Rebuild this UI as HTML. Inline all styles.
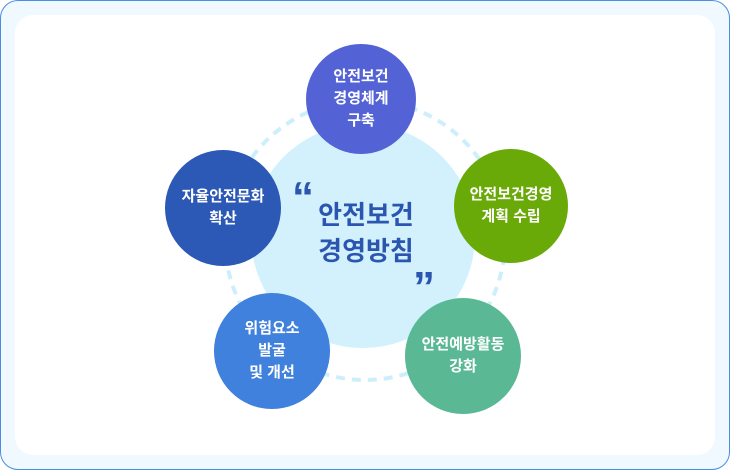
<!DOCTYPE html>
<html><head><meta charset="utf-8"><style>
body{margin:0;width:730px;height:470px;overflow:hidden;background:#fff;font-family:"Liberation Sans","Noto Sans CJK KR",sans-serif}
.outer{position:absolute;left:0;top:0;width:728px;height:468px;border:1px solid #4a8ee0;border-radius:18px;background:#f0f9ff}
.inner{position:absolute;left:15px;top:15px;width:700px;height:440px;background:#fff;border-radius:18px}
.c{position:absolute;border-radius:50%;color:#fff;font-weight:bold;font-size:15px;line-height:22px;display:flex;align-items:center;justify-content:center;text-align:center}
</style></head><body>
<div class="outer"></div><div class="inner"></div>
<svg style="position:absolute;left:0;top:0" width="730" height="470">
<circle cx="365" cy="240" r="140" fill="none" stroke="#cdeffc" stroke-width="4" stroke-dasharray="9 7"/>
<circle cx="363" cy="236" r="112" fill="#d2f1fd"/>
<text x="292" y="212" font-family="Liberation Sans,sans-serif" font-size="44" font-weight="bold" fill="#2b56b0">“</text>
<text x="413" y="302" font-family="Liberation Sans,sans-serif" font-size="44" font-weight="bold" fill="#2b56b0">”</text>
<text x="366" y="224" text-anchor="middle" font-family="Liberation Sans,Noto Sans CJK KR,sans-serif" font-size="26" font-weight="bold" fill="#2b56b0">안전보건</text>
<text x="366" y="260" text-anchor="middle" font-family="Liberation Sans,Noto Sans CJK KR,sans-serif" font-size="26" font-weight="bold" fill="#2b56b0">경영방침</text>
</svg>
<div class="c" style="left:306px;top:44px;width:110px;height:110px;background:#5363d6">안전보건<br>경영체계<br>구축</div>
<div class="c" style="left:165px;top:150px;width:116px;height:116px;background:#2c58b6">자율안전문화<br>확산</div>
<div class="c" style="left:454px;top:149px;width:114px;height:114px;background:#6aaa08">안전보건경영<br>계획 수립</div>
<div class="c" style="left:405px;top:298px;width:116px;height:116px;background:#5ab994">안전예방활동<br>강화</div>
<div class="c" style="left:214px;top:293px;width:116px;height:116px;background:#3f81dc">위험요소<br>발굴<br>및 개선</div>
</body></html>
